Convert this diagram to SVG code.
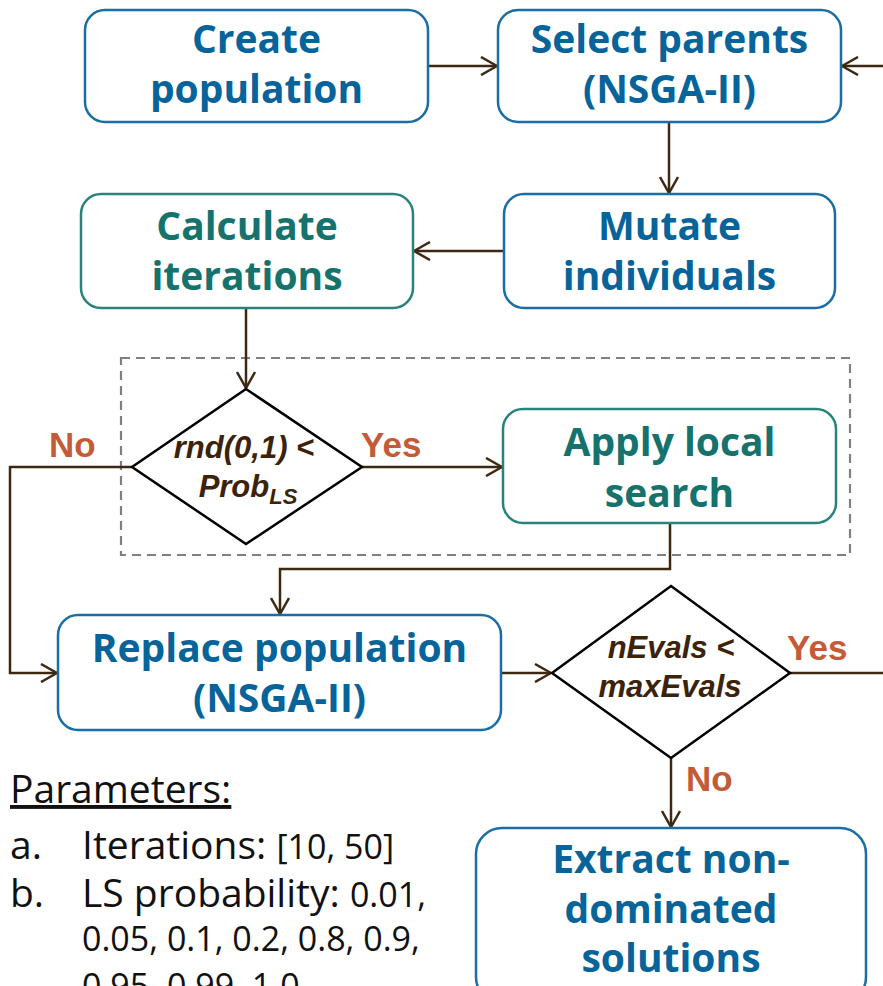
<svg xmlns="http://www.w3.org/2000/svg" width="883" height="986" viewBox="0 0 883 986">
<style>
.box{fill:#fff;stroke-width:2.5}
.blue{stroke:#1a6ea3}
.teal{stroke:#2a827c}
.lb{font-family:"Open Sans","Liberation Sans",sans-serif;font-weight:bold;font-size:39px;text-anchor:middle}
.tb{fill:#06649a}
.tt{fill:#16726c}
.dia{fill:#fff;stroke:#000;stroke-width:2.5}
.dt{font-family:"Liberation Sans",Arial,sans-serif;font-weight:bold;font-style:italic;font-size:31px;fill:#3b2208;text-anchor:middle}
.yn{font-family:"Liberation Sans",Arial,sans-serif;font-weight:bold;font-size:35px;fill:#c45b37}
.con{fill:none;stroke:#3e2812;stroke-width:2.5}
.par{font-family:"Open Sans","Liberation Sans",sans-serif;font-size:39px;fill:#111}
.num{font-size:34px}
</style>
<defs>
<marker id="ah" viewBox="0 0 18 20" refX="17" refY="10" markerWidth="18" markerHeight="20" markerUnits="userSpaceOnUse" orient="auto">
<path d="M1,1 L17,10 L1,19" fill="none" stroke="#3e2812" stroke-width="2.5"/>
</marker>
</defs>
<rect x="0" y="0" width="883" height="986" fill="#fff"/>
<rect id="ls-region" x="121" y="358" width="729" height="197" fill="none" stroke="#808080" stroke-width="2.2" stroke-dasharray="9,6"/>
<g id="connectors">
<path class="con" d="M428,66 H497" marker-end="url(#ah)"/>
<path class="con" d="M883,66 H842" marker-end="url(#ah)"/>
<path class="con" d="M669,122 V193" marker-end="url(#ah)"/>
<path class="con" d="M504,251 H414" marker-end="url(#ah)"/>
<path class="con" d="M246,308 V388" marker-end="url(#ah)"/>
<path class="con" d="M362,467 H502" marker-end="url(#ah)"/>
<path class="con" d="M132,467 H10 V673 H57" marker-end="url(#ah)"/>
<path class="con" d="M670,523 V569 H280 V614" marker-end="url(#ah)"/>
<path class="con" d="M501,673 H551" marker-end="url(#ah)"/>
<path class="con" d="M790,673 H883"/>
<path class="con" d="M671,758 V827" marker-end="url(#ah)"/>
</g>
<g id="create">
<rect class="box blue" x="85" y="10" width="343" height="112" rx="20"/>
<text class="lb tb" x="256.5" y="53">Create</text>
<text class="lb tb" x="256.5" y="103">population</text>
</g>
<g id="select">
<rect class="box blue" x="498" y="10" width="343" height="112" rx="20"/>
<text class="lb tb" x="669.5" y="53">Select parents</text>
<text class="lb tb" x="669.5" y="103">(NSGA-II)</text>
</g>
<g id="calc">
<rect class="box teal" x="81" y="194" width="332" height="114" rx="20"/>
<text class="lb tt" x="247" y="240">Calculate</text>
<text class="lb tt" x="247" y="290">iterations</text>
</g>
<g id="mutate">
<rect class="box blue" x="504" y="194" width="331" height="114" rx="20"/>
<text class="lb tb" x="669.5" y="240">Mutate</text>
<text class="lb tb" x="669.5" y="290">individuals</text>
</g>
<g id="decision1">
<polygon class="dia" points="246,389 362,467 246,544 132,467"/>
<text class="dt" x="244" y="458">rnd(0,1) &lt;</text>
<text class="dt" x="248" y="497">Prob<tspan font-size="22" dy="7">LS</tspan></text>
</g>
<text class="yn" x="49" y="457">No</text>
<text class="yn" x="361" y="457">Yes</text>
<g id="apply">
<rect class="box teal" x="503" y="409" width="333" height="114" rx="20"/>
<text class="lb tt" x="669.5" y="456">Apply local</text>
<text class="lb tt" x="669.5" y="507">search</text>
</g>
<g id="replace">
<rect class="box blue" x="58" y="615" width="443" height="115" rx="20"/>
<text class="lb tb" x="279.5" y="662">Replace population</text>
<text class="lb tb" x="279.5" y="712">(NSGA-II)</text>
</g>
<g id="decision2">
<polygon class="dia" points="671,586 790,673 671,758 552,673"/>
<text class="dt" x="671" y="658">nEvals &lt;</text>
<text class="dt" x="670" y="697">maxEvals</text>
</g>
<text class="yn" x="787" y="660">Yes</text>
<text class="yn" x="686" y="791">No</text>
<g id="extract">
<rect class="box blue" x="476" y="828" width="390" height="175" rx="26"/>
<text class="lb tb" x="671" y="873">Extract non-</text>
<text class="lb tb" x="671" y="923">dominated</text>
<text class="lb tb" x="671" y="972">solutions</text>
</g>
<g id="parameters">
<text class="par" x="10" y="803" text-decoration="underline">Parameters:</text>
<text class="par" x="10" y="859">a.</text>
<text class="par" x="82" y="859">Iterations: <tspan class="num">[10, 50]</tspan></text>
<text class="par" x="10" y="907">b.</text>
<text class="par" x="82" y="907">LS probability: <tspan class="num">0.01,</tspan></text>
<text class="par num" x="82" y="951">0.05, 0.1, 0.2, 0.8, 0.9,</text>
<text class="par num" x="82" y="998">0.95,  0.99, 1.0</text>
</g>
</svg>
